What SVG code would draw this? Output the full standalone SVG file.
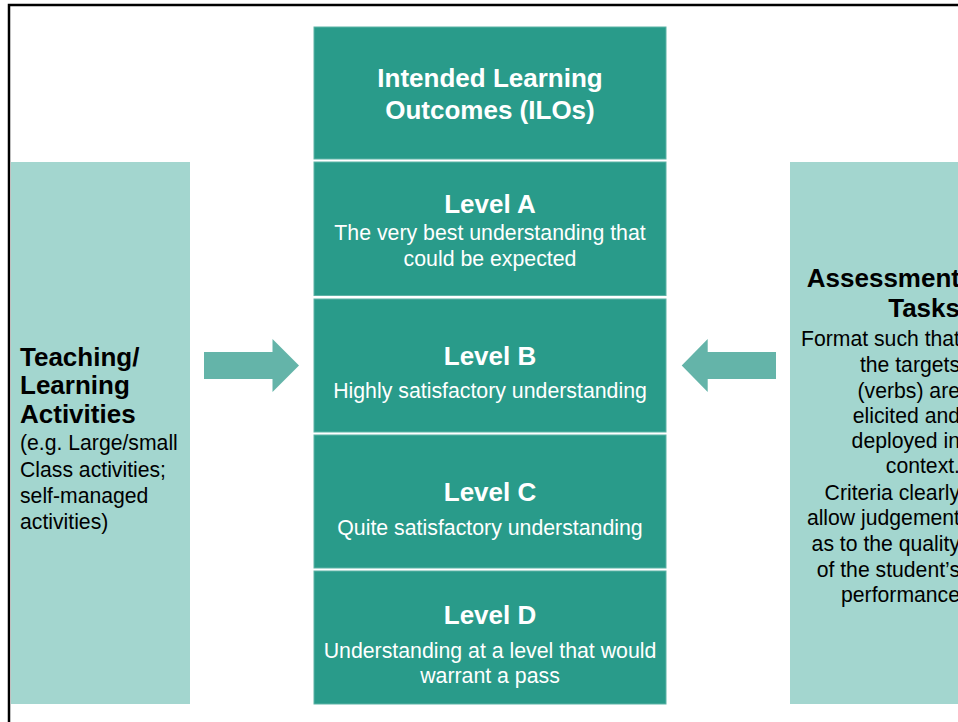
<svg xmlns="http://www.w3.org/2000/svg" width="958" height="722" viewBox="0 0 958 722">
  <style>
    .dark { fill: #299B8A; stroke: #5DB3A6; stroke-width: 1; }
    .light { fill: #A3D6CF; }
    .arrow { fill: #64B4A9; }
    .wt { fill: #ffffff; font-family: "Liberation Sans", Arial, sans-serif; text-anchor: middle; }
    .bt { font-weight: bold; font-size: 26px; }
    .st { font-size: 21.3px; }
    .bk { fill: #000000; font-family: "Liberation Sans", Arial, sans-serif; }
    .bkb { font-weight: bold; font-size: 26px; }
    .bks { font-size: 21.2px; }
  </style>
  <rect x="0" y="0" width="958" height="722" fill="#ffffff"/>
  <g id="frame">
    <path d="M9,722 L9,5 L958,5" fill="none" stroke="#000000" stroke-width="2.5"/>
  </g>

  <g id="ilos">
    <rect class="dark" x="314" y="27" width="352" height="132"/>
    <text class="wt bt" x="490" y="87">Intended Learning</text>
    <text class="wt bt" x="490" y="119">Outcomes (ILOs)</text>
  </g>
  <g id="level-a">
    <rect class="dark" x="314" y="162" width="352" height="133.5"/>
    <text class="wt bt" x="490" y="213">Level A</text>
    <text class="wt st" x="490" y="240">The very best understanding that</text>
    <text class="wt st" x="490" y="266">could be expected</text>
  </g>
  <g id="level-b">
    <rect class="dark" x="314" y="299" width="352" height="133"/>
    <text class="wt bt" x="490" y="365">Level B</text>
    <text class="wt st" x="490" y="398">Highly satisfactory understanding</text>
  </g>
  <g id="level-c">
    <rect class="dark" x="314" y="435" width="352" height="133"/>
    <text class="wt bt" x="490" y="501">Level C</text>
    <text class="wt st" x="490" y="535">Quite satisfactory understanding</text>
  </g>
  <g id="level-d">
    <rect class="dark" x="314" y="571" width="352" height="133"/>
    <text class="wt bt" x="490" y="624">Level D</text>
    <text class="wt st" x="490" y="658">Understanding at a level that would</text>
    <text class="wt st" x="490" y="683">warrant a pass</text>
  </g>

  <g id="teaching-learning">
    <rect class="light" x="11" y="162" width="179" height="542"/>
    <text class="bk bkb" x="20" y="366">Teaching/</text>
    <text class="bk bkb" x="20" y="394">Learning</text>
    <text class="bk bkb" x="20" y="423">Activities</text>
    <text class="bk bks" x="20" y="450">(e.g. Large/small</text>
    <text class="bk bks" x="20" y="477">Class activities;</text>
    <text class="bk bks" x="20" y="503">self-managed</text>
    <text class="bk bks" x="20" y="529">activities)</text>
  </g>

  <g id="assessment-tasks">
    <rect class="light" x="790" y="162" width="179" height="542"/>
    <g text-anchor="end">
      <text class="bk bkb" x="960" y="287">Assessment</text>
      <text class="bk bkb" x="960" y="317">Tasks</text>
      <text class="bk bks" x="960" y="346">Format such that</text>
      <text class="bk bks" x="960" y="372">the targets</text>
      <text class="bk bks" x="960" y="398">(verbs) are</text>
      <text class="bk bks" x="960" y="423">elicited and</text>
      <text class="bk bks" x="960" y="448">deployed in</text>
      <text class="bk bks" x="960" y="473">context.</text>
      <text class="bk bks" x="960" y="500">Criteria clearly</text>
      <text class="bk bks" x="960" y="525">allow judgement</text>
      <text class="bk bks" x="960" y="551">as to the quality</text>
      <text class="bk bks" x="960" y="577">of the student’s</text>
      <text class="bk bks" x="960" y="602">performance</text>
    </g>
  </g>

  <g id="connectors">
    <polygon class="arrow" points="204,352 272.5,352 272.5,339 299,365.5 272.5,392 272.5,379 204,379"/>
    <polygon class="arrow" points="776,352 707.7,352 707.7,339 681.7,365.5 707.7,392 707.7,379 776,379"/>
  </g>
</svg>
